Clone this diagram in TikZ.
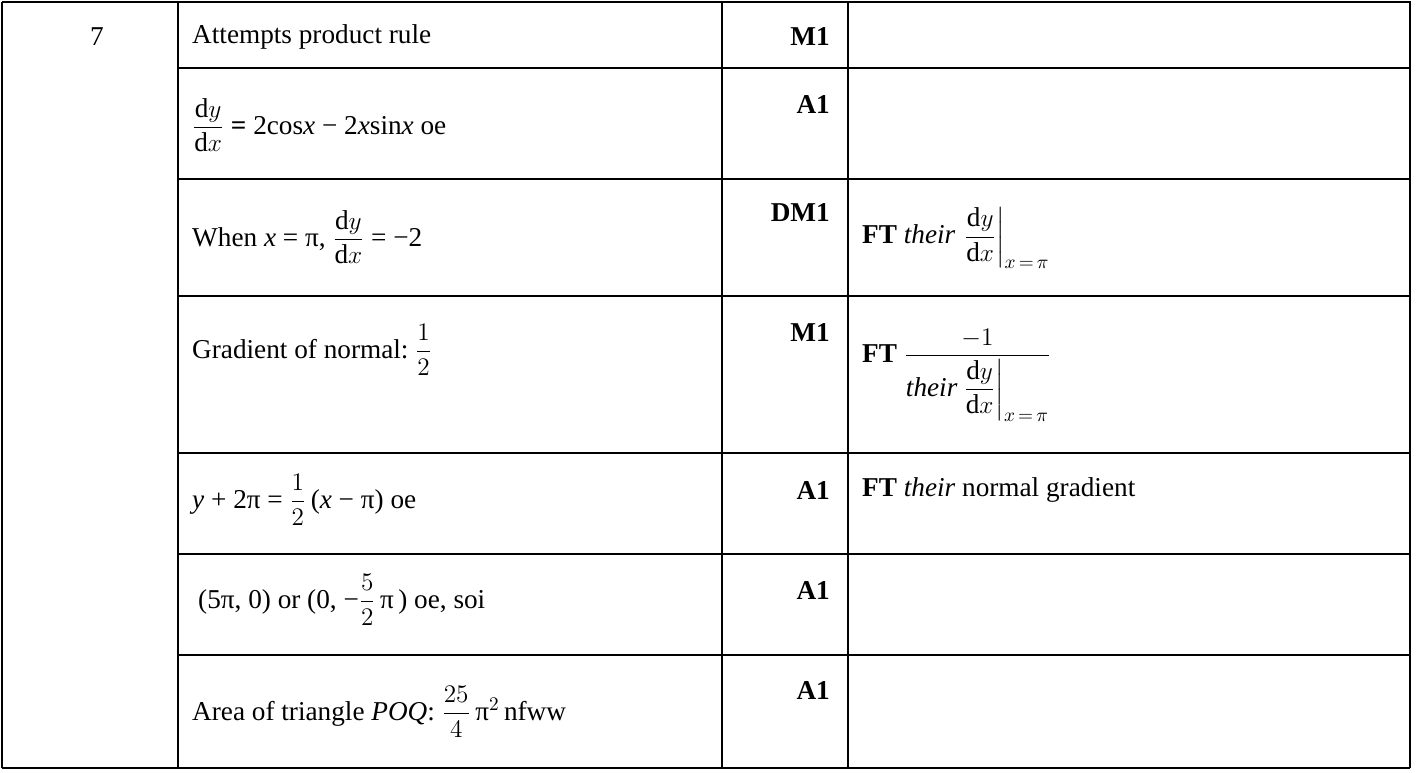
\documentclass[tikz,border=0pt]{standalone}
\usepackage{amsmath}
\usepackage{fontspec}
\setmainfont{Liberation Serif}
\begin{document}
\begin{tikzpicture}[x=0.02cm,y=-0.02cm,
  cell/.style={anchor=west,font=\fontsize{15.5}{18}\selectfont},
  markcell/.style={anchor=east,font=\fontsize{15.5}{18}\selectfont\bfseries}]
\useasboundingbox (0,0) rectangle (1416,772);
% Gitter
\draw[line width=0.6pt] (2,2) -- (1410,2) -- (1410,768) (2,2) -- (2,768) (2,768) -- (1410,768);
\foreach \x in {178,722,848} {
  \draw[line width=0.6pt] (\x,2) -- (\x,768);
}
\foreach \y in {68,179,296,453,554,655} {
  \draw[line width=0.6pt] (178,\y) -- (1410,\y);
}
% Frage
\node[cell,anchor=center] (q) at (97,37) {7};
% Zeilen
\node[cell] (r1) at (186,37) {Attempts product rule};
\node[cell] (r2) at (186,125) {$\dfrac{\mathrm{d}y}{\mathrm{d}x}$ \textbf{=} 2cos\textit{x} − 2\textit{x}sin\textit{x} oe};
\node[cell] (r3) at (186,237) {When \textit{x} = π,\ $\dfrac{\mathrm{d}y}{\mathrm{d}x}$ = −2};
\node[cell] (r4) at (186,350) {Gradient of normal:\ $\dfrac{1}{2}$};
\node[cell] (r5) at (186,500) {\textit{y} + 2π = $\dfrac{1}{2}$\,(\textit{x} − π) oe};
\node[cell] (r6) at (192,600) {(5π, 0) or (0, −$\dfrac{5}{2}$\,π\,) oe, soi};
\node[cell] (r7) at (186,712) {Area of triangle \textit{POQ}:\ $\dfrac{25}{4}$\,π$^2$\,nfww};
% Punkte
\foreach \y/\m [count=\i] in {37/M1,105/A1,213/DM1,332/M1,490/A1,590/A1,690/A1} {
  \node[markcell] (m\i) at (836,\y) {\m};
}
% Hinweise
\node[cell] (g3) at (856,238) {\textbf{FT} \textit{their}\ $\left.\dfrac{\mathrm{d}y}{\mathrm{d}x}\right|_{x\,=\,\pi}$};
\node[cell] (g4) at (856,375) {\textbf{FT}\ $\dfrac{-1}{\textit{their}\left.\dfrac{\mathrm{d}y}{\mathrm{d}x}\right|_{x\,=\,\pi}}$};
\node[cell] (g5) at (856,490) {\textbf{FT} \textit{their} normal gradient};
\end{tikzpicture}
\end{document}
